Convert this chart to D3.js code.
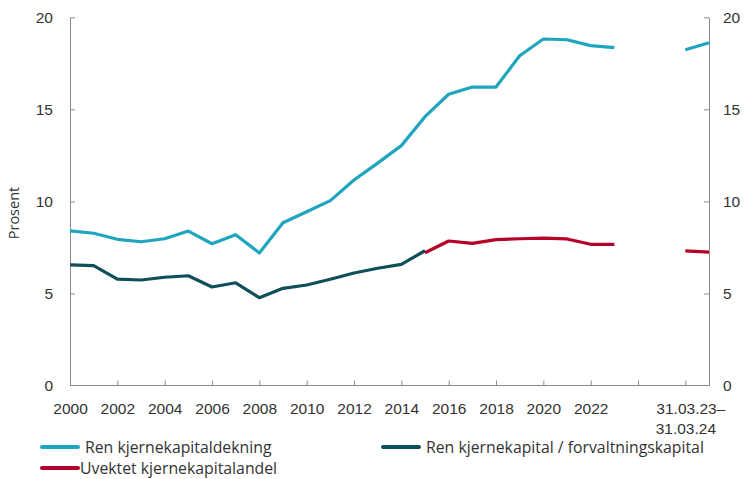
<!DOCTYPE html>
<html>
<head>
<meta charset="utf-8">
<script src="https://cdn.jsdelivr.net/npm/d3@7"></script>
<style>
  body { margin: 0; background: #fff; }
  svg { font-family: "Open Sans", sans-serif; }
  .axis text { fill: #333; font-size: 15.5px; }
  .axis path, .axis line { stroke: #8a8a8a; }
  .legend text { fill: #333; font-size: 15.8px; }
</style>
</head>
<body>
<svg class="chart" width="746" height="479"></svg>
<script>
// years on the x axis; 2026/2027 stand for 31.03.23 and 31.03.24
const years = [2000, 2001, 2002, 2003, 2004, 2005, 2006, 2007, 2008, 2009, 2010, 2011, 2012, 2013,
  2014, 2015, 2016, 2017, 2018, 2019, 2020, 2021, 2022, 2023, 2024, 2025, 2026, 2027];

const renKjernekapitaldekning = [8.4, 8.27, 7.94, 7.81, 7.97, 8.39, 7.7, 8.19, 7.2, 8.84, 9.44, 10.04,
  11.16, 12.08, 13.03, 14.6, 15.82, 16.21, 16.21, 17.91, 18.82, 18.78, 18.46, 18.35, null, null, 18.24, 18.62];

const renKjernekapitalForvaltning = [6.55, 6.51, 5.78, 5.73, 5.88, 5.96, 5.35, 5.58, 4.77, 5.28, 5.46,
  5.77, 6.11, 6.37, 6.58, 7.32, null, null, null, null, null, null, null, null, null, null, null, null];

const uvektetKjernekapitalandel = [null, null, null, null, null, null, null, null, null, null, null,
  null, null, null, null, 7.21, 7.85, 7.72, 7.92, 7.97, 8.01, 7.96, 7.67, 7.67, null, null, 7.31, 7.25];

const xTicks = [2000, 2002, 2004, 2006, 2008, 2010, 2012, 2014, 2016, 2018, 2020, 2022, 2024, 2026];
const xTickLabels = ['2000', '2002', '2004', '2006', '2008', '2010', '2012', '2014', '2016', '2018',
  '2020', '2022', '', '31.03.23–|31.03.24'];
const yTicks = [0, 5, 10, 15, 20];

const seriesNames = ['Ren kjernekapitaldekning', 'Ren kjernekapital / forvaltningskapital', 'Uvektet kjernekapitalandel'];
const seriesColors = ['#1fa5be', '#0f4f58', '#b5002c'];

const svg = d3.select('.chart');

const x = d3.scaleLinear().domain([2000, 2027]).range([70, 709]);
const y = d3.scaleLinear().domain([0, 20]).range([385.5, 17.3]);

// axes
const xAxis = svg.append('g')
  .attr('class', 'axis')
  .attr('transform', `translate(0,${y(0)})`)
  .call(d3.axisBottom(x).tickValues(xTicks).tickSize(-5).tickSizeOuter(0).tickFormat(''));
xAxis.select('.domain').attr('d', `M${x(2000)},0H${x(2027)}`);

xAxis.selectAll('.tick').append('text')
  .attr('text-anchor', 'middle')
  .attr('y', 28)
  .each(function (d, i) {
    const parts = xTickLabels[i].split('|');
    parts.forEach((p, j) => {
      d3.select(this).append('tspan')
        .attr('x', j === 0 && parts.length > 1 ? 5 : 0)
        .attr('dy', j === 0 ? 0 : 20)
        .text(p);
    });
  });

const yLeft = svg.append('g')
  .attr('class', 'axis')
  .attr('transform', `translate(${x(2000)},0)`)
  .call(d3.axisLeft(y).tickValues(yTicks).tickSize(-5).tickSizeOuter(0).tickPadding(17));
yLeft.selectAll('.tick line').filter(d => d === 0).remove();

const yRight = svg.append('g')
  .attr('class', 'axis')
  .attr('transform', `translate(${x(2027)},0)`)
  .call(d3.axisRight(y).tickValues(yTicks).tickSize(-5).tickSizeOuter(0).tickPadding(14));
yRight.selectAll('.tick line').filter(d => d === 0).remove();

svg.selectAll('.axis .domain').attr('stroke', '#8a8a8a');

svg.append('text')
  .attr('transform', 'translate(19,213) rotate(-90)')
  .attr('text-anchor', 'middle')
  .attr('fill', '#333')
  .attr('font-size', 14.5)
  .text('Prosent');

// lines
const line = d3.line()
  .defined(d => d[1] !== null)
  .x(d => x(d[0]))
  .y(d => y(d[1]));

const allSeries = [renKjernekapitaldekning, renKjernekapitalForvaltning, uvektetKjernekapitalandel];

svg.append('g')
  .selectAll('path')
  .data(allSeries)
  .enter().append('path')
    .attr('fill', 'none')
    .attr('stroke', (d, i) => seriesColors[i])
    .attr('stroke-width', 3.2)
    .attr('stroke-linejoin', 'round')
    .attr('d', s => line(years.map((yr, i) => [yr, s[i]])));

// legend
const legendPos = [[42, 447], [383, 447], [42, 468]];
const legend = svg.append('g')
  .attr('class', 'legend')
  .selectAll('g')
  .data(seriesNames)
  .enter().append('g')
    .attr('transform', (d, i) => `translate(${legendPos[i][0]},${legendPos[i][1]})`);

legend.append('line')
  .attr('x1', 0).attr('x2', 36)
  .attr('stroke', (d, i) => seriesColors[i])
  .attr('stroke-width', 4)
  .attr('stroke-linecap', 'round');

legend.append('text')
  .attr('x', (d, i) => (i === 2 ? 38 : 43))
  .attr('dy', '0.35em')
  .text(d => d);
</script>
</body>
</html>
